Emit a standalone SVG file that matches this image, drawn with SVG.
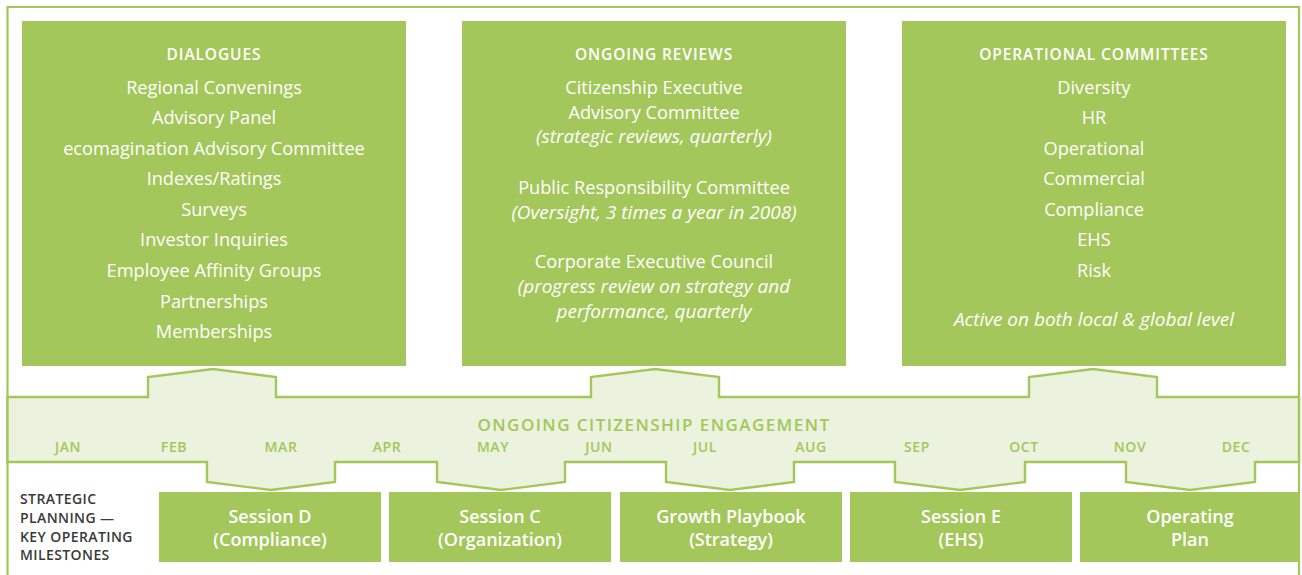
<svg xmlns="http://www.w3.org/2000/svg" width="1302" height="575" viewBox="0 0 1302 575">
  <style>
    .box { fill: #A3C75A; }
    .frame { fill: none; stroke: #A3C75A; stroke-width: 2.2; }
    .band { fill: #EBF3DE; stroke: #A3C75A; stroke-width: 2.4; stroke-linejoin: miter; }
    .head { font-family: "Open Sans", "Liberation Sans", sans-serif; font-size: 15.5px; font-weight: 600; fill: #FFFFFF; text-anchor: middle; letter-spacing: 0.9px; }
    .item { font-family: "Open Sans", "Liberation Sans", sans-serif; font-size: 18.2px; font-weight: 400; fill: #FFFFFF; text-anchor: middle; }
    .note { font-family: "Open Sans", "Liberation Sans", sans-serif; font-size: 19px; font-style: italic; fill: #FFFFFF; text-anchor: middle; }
    .title { font-family: "Open Sans", "Liberation Sans", sans-serif; font-size: 17px; font-weight: 600; fill: #A3C75A; text-anchor: middle; letter-spacing: 1.45px; }
    .month { font-family: "Open Sans", "Liberation Sans", sans-serif; font-size: 14px; font-weight: 600; fill: #A3C75A; text-anchor: middle; letter-spacing: 0.6px; }
    .side { font-family: "Open Sans", "Liberation Sans", sans-serif; font-size: 14px; font-weight: 600; fill: #3A3A3A; letter-spacing: 0.4px; }
    .sess { font-family: "Open Sans", "Liberation Sans", sans-serif; font-size: 18px; font-weight: 600; fill: #FFFFFF; text-anchor: middle; }
  </style>

  <rect width="1302" height="575" fill="#FFFFFF"/>

  <!-- outer frame -->
  <path class="frame" d="M7.5 580 V7 H1299 V580"/>

  <!-- engagement band with arrows up to the forums and down to the milestones -->
  <g id="connectors">
    <path class="band" d="M7.5 397 H148 V377 L213 369 L276 377 V397 H591 V377 L655 369 L719 377 V397 H1029 V377 L1093 369 L1157 377 V397 H1299 V462 H1255 V482 L1190 490 L1126 482 V462 H1025 V482 L960 490 L895 482 V462 H794 V482 L730 490 L666 482 V462 H565 V482 L501 490 L437 482 V462 H335 V482 L271 490 L207 482 V462 H7.5 Z"/>
  </g>

  <g id="band-labels">
    <text class="title" x="654" y="431">ONGOING CITIZENSHIP ENGAGEMENT</text>
    <text class="month" x="68" y="452">JAN</text>
    <text class="month" x="174" y="452">FEB</text>
    <text class="month" x="281" y="452">MAR</text>
    <text class="month" x="387" y="452">APR</text>
    <text class="month" x="493" y="452">MAY</text>
    <text class="month" x="599" y="452">JUN</text>
    <text class="month" x="705" y="452">JUL</text>
    <text class="month" x="811" y="452">AUG</text>
    <text class="month" x="917" y="452">SEP</text>
    <text class="month" x="1024" y="452">OCT</text>
    <text class="month" x="1130" y="452">NOV</text>
    <text class="month" x="1236" y="452">DEC</text>
  </g>

  <g id="dialogues">
    <rect class="box" x="22" y="21" width="384" height="345"/>
    <text class="head" x="214" y="60">DIALOGUES</text>
    <text class="item" x="214" y="94">Regional Convenings</text>
    <text class="item" x="214" y="124">Advisory Panel</text>
    <text class="item" x="214" y="155">ecomagination Advisory Committee</text>
    <text class="item" x="214" y="185">Indexes/Ratings</text>
    <text class="item" x="214" y="216">Surveys</text>
    <text class="item" x="214" y="246">Investor Inquiries</text>
    <text class="item" x="214" y="277">Employee Affinity Groups</text>
    <text class="item" x="214" y="308">Partnerships</text>
    <text class="item" x="214" y="338">Memberships</text>
  </g>

  <g id="ongoing-reviews">
    <rect class="box" x="462" y="21" width="384" height="345"/>
    <text class="head" x="654" y="60">ONGOING REVIEWS</text>
    <text class="item" x="654" y="94">Citizenship Executive</text>
    <text class="item" x="654" y="119">Advisory Committee</text>
    <text class="note" x="654" y="143">(strategic reviews, quarterly)</text>
    <text class="item" x="654" y="194">Public Responsibility Committee</text>
    <text class="note" x="654" y="219">(Oversight, 3 times a year in 2008)</text>
    <text class="item" x="654" y="268">Corporate Executive Council</text>
    <text class="note" x="654" y="293">(progress review on strategy and</text>
    <text class="note" x="654" y="318">performance, quarterly</text>
  </g>

  <g id="operational-committees">
    <rect class="box" x="902" y="21" width="384" height="345"/>
    <text class="head" x="1094" y="60">OPERATIONAL COMMITTEES</text>
    <text class="item" x="1094" y="94">Diversity</text>
    <text class="item" x="1094" y="124">HR</text>
    <text class="item" x="1094" y="155">Operational</text>
    <text class="item" x="1094" y="185">Commercial</text>
    <text class="item" x="1094" y="216">Compliance</text>
    <text class="item" x="1094" y="246">EHS</text>
    <text class="item" x="1094" y="277">Risk</text>
    <text class="note" x="1094" y="326">Active on both local &amp; global level</text>
  </g>

  <g id="strategic-planning-label">
    <text class="side" x="20" y="504">STRATEGIC</text>
    <text class="side" x="20" y="523">PLANNING —</text>
    <text class="side" x="20" y="542">KEY OPERATING</text>
    <text class="side" x="20" y="560">MILESTONES</text>
  </g>

  <g id="session-d">
    <rect class="box" x="159" y="492" width="222" height="70"/>
    <text class="sess" x="270" y="523">Session D</text>
    <text class="sess" x="270" y="546">(Compliance)</text>
  </g>

  <g id="session-c">
    <rect class="box" x="389" y="492" width="222" height="70"/>
    <text class="sess" x="500" y="523">Session C</text>
    <text class="sess" x="500" y="546">(Organization)</text>
  </g>

  <g id="growth-playbook">
    <rect class="box" x="620" y="492" width="222" height="70"/>
    <text class="sess" x="731" y="523">Growth Playbook</text>
    <text class="sess" x="731" y="546">(Strategy)</text>
  </g>

  <g id="session-e">
    <rect class="box" x="850" y="492" width="222" height="70"/>
    <text class="sess" x="961" y="523">Session E</text>
    <text class="sess" x="961" y="546">(EHS)</text>
  </g>

  <g id="operating-plan">
    <rect class="box" x="1080" y="492" width="219" height="70"/>
    <text class="sess" x="1190" y="523">Operating</text>
    <text class="sess" x="1190" y="546">Plan</text>
  </g>
</svg>
